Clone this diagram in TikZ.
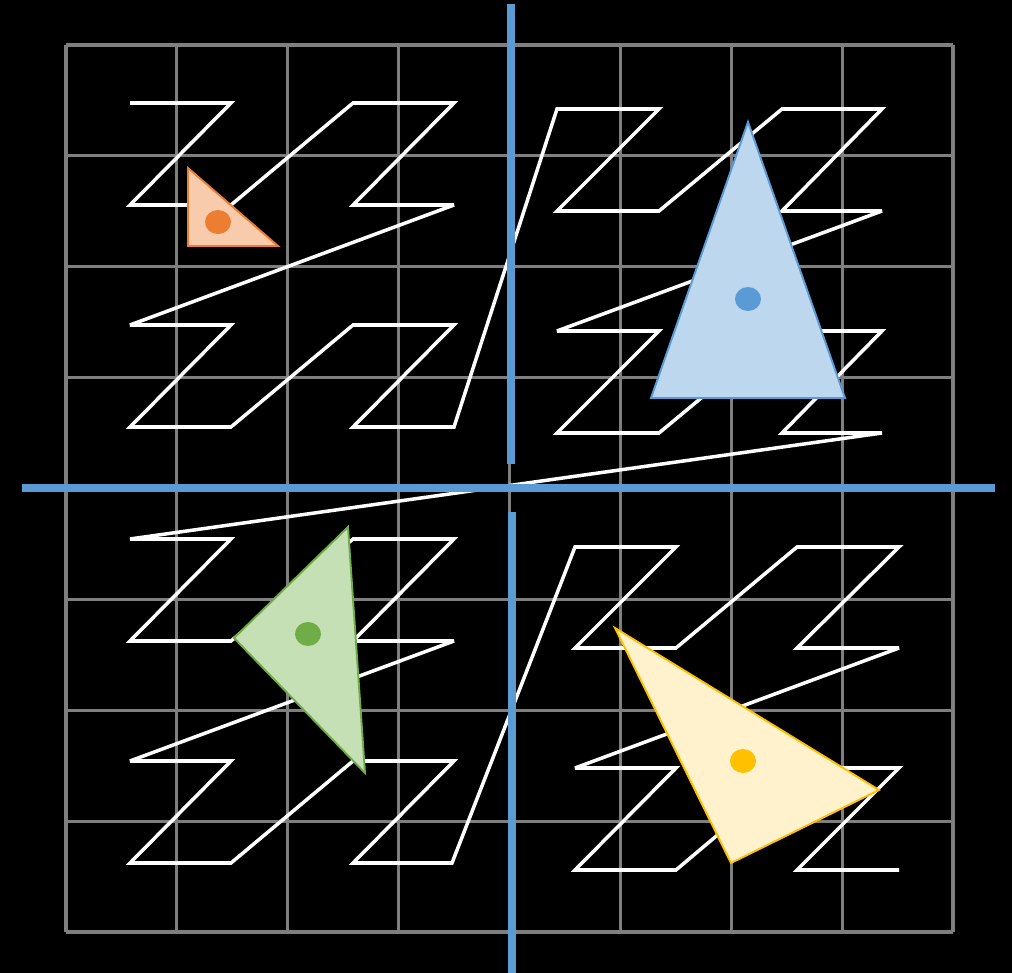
\documentclass[tikz,border=0pt]{standalone}
\definecolor{gridgray}{RGB}{127,127,127}
\definecolor{axisblue}{RGB}{91,155,213}
\definecolor{darkorange}{RGB}{237,125,49}
\definecolor{lightorange}{RGB}{248,203,173}
\definecolor{lightblue}{RGB}{189,215,238}
\definecolor{darkgreen}{RGB}{112,173,71}
\definecolor{lightgreen}{RGB}{197,224,180}
\definecolor{darkyellow}{RGB}{255,192,0}
\definecolor{lightyellow}{RGB}{255,242,204}
\usepackage{tikz}
\usetikzlibrary{positioning}

\begin{document}
\begin{tikzpicture}[
        x=0.02cm, y=-0.02cm,
        gridline/.style={draw=gridgray, line width=1.8pt},
        axis/.style={draw=axisblue, line width=4.5pt},
        zcurve/.style={draw=white, line width=2pt, miter limit=4},
        tri/.style={line width=1.1pt},
        dot/.style={x radius=13, y radius=12}
    ]
        \useasboundingbox (0,0) rectangle (1012,973);
        \fill[black] (0,0) rectangle (1012,973);
        % 8x8 grid
        \foreach \i in {0,...,8} {
            \draw[gridline] ({66+110.875*\i},45) -- ({66+110.875*\i},932);
            \draw[gridline] (66,{45+110.875*\i}) -- (953,{45+110.875*\i});
        }
        % Z-order curve
        \draw[zcurve] (130,103) -- (231,103) -- (130,205) -- (231,205) -- (353,103) -- (454,103) -- (353,205) -- (454,205)
            -- (130,325) -- (231,325) -- (130,427) -- (231,427) -- (353,325) -- (454,325) -- (353,427) -- (454,427)
            -- (557,109) -- (659,109) -- (557,211) -- (659,211) -- (782,109) -- (882,109) -- (782,211) -- (882,211)
            -- (557,331) -- (659,331) -- (557,433) -- (659,433) -- (782,331) -- (882,331) -- (782,433) -- (882,433)
            -- (130,539) -- (231,539) -- (130,641) -- (231,641) -- (353,539) -- (454,539) -- (353,641) -- (454,641)
            -- (130,761) -- (231,761) -- (130,863) -- (231,863) -- (353,761) -- (454,761) -- (353,863) -- (452,863)
            -- (575,547) -- (676,547) -- (575,648) -- (676,648) -- (797,547) -- (899,547) -- (797,648) -- (899,648)
            -- (575,768) -- (676,768) -- (575,870) -- (676,870) -- (797,768) -- (899,768) -- (797,870) -- (899,870);
        % triangles
        \filldraw[tri, draw=darkorange, fill=lightorange] (188,168) -- (188,246) -- (278,246) -- cycle;
        \fill[darkorange] (218,222) ellipse [dot];
        \filldraw[tri, draw=axisblue, fill=lightblue] (748,122) -- (651,398) -- (845,398) -- cycle;
        \fill[axisblue] (748,299) ellipse [dot];
        \filldraw[tri, draw=darkgreen, fill=lightgreen] (348,527) -- (234,638) -- (365,773) -- cycle;
        \fill[darkgreen] (308,634) ellipse [dot];
        \filldraw[tri, draw=darkyellow, fill=lightyellow] (615,628) -- (879,790) -- (731,863) -- cycle;
        \fill[darkyellow] (743,761) ellipse [dot];
        % axes
        \draw[axis] (22,488) -- (995,488);
        \draw[axis] (511,4) -- (511,464);
        \draw[axis] (512,512) -- (512,973);
    \end{tikzpicture}
\end{document}
